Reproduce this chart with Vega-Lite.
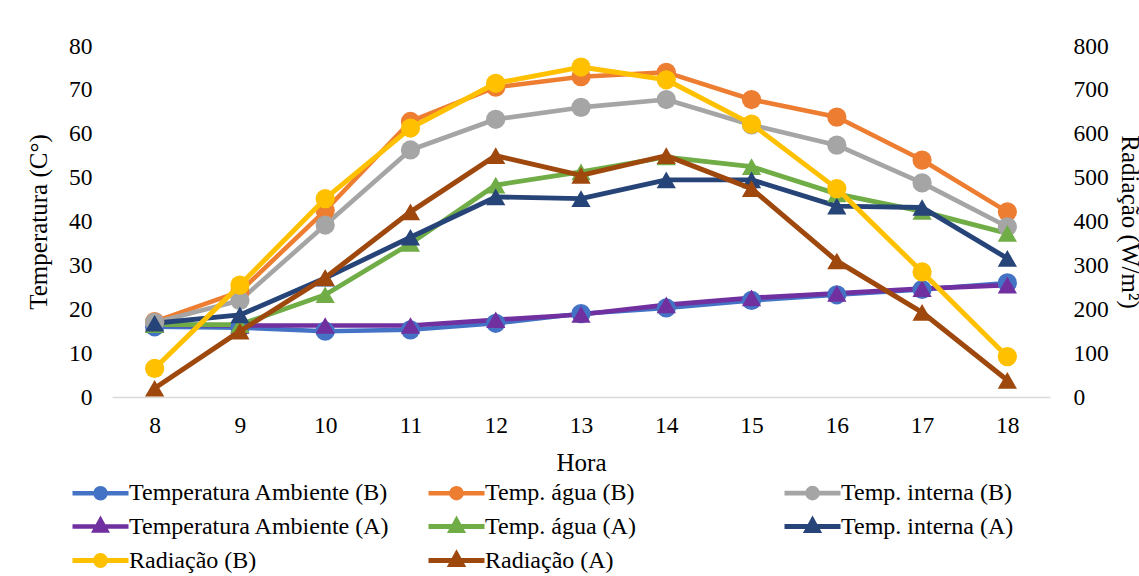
{
  "$schema": "https://vega.github.io/schema/vega-lite/v6.json",
  "width": 938,
  "height": 351,
  "autosize": {"type": "none"},
  "padding": {"left": 112, "top": 46, "right": 89, "bottom": 179},
  "background": "white",
  "config": {
    "font": "Liberation Serif",
    "view": {"stroke": null},
    "legend": {"labelFont": "Liberation Serif"},
    "axis": {
      "labelFont": "Liberation Serif",
      "labelFontSize": 23.5,
      "labelColor": "#000000",
      "titleFont": "Liberation Serif",
      "titleFontSize": 25,
      "titleFontWeight": "normal",
      "titleColor": "#000000",
      "grid": false,
      "ticks": false,
      "tickSize": 0
    }
  },
  "data": {
    "values": [
      {"hora": 8, "serie": "Temperatura Ambiente (B)", "valor": 16.0},
      {"hora": 9, "serie": "Temperatura Ambiente (B)", "valor": 15.8},
      {"hora": 10, "serie": "Temperatura Ambiente (B)", "valor": 15.0},
      {"hora": 11, "serie": "Temperatura Ambiente (B)", "valor": 15.3},
      {"hora": 12, "serie": "Temperatura Ambiente (B)", "valor": 16.8},
      {"hora": 13, "serie": "Temperatura Ambiente (B)", "valor": 19.0},
      {"hora": 14, "serie": "Temperatura Ambiente (B)", "valor": 20.3},
      {"hora": 15, "serie": "Temperatura Ambiente (B)", "valor": 22.0},
      {"hora": 16, "serie": "Temperatura Ambiente (B)", "valor": 23.3},
      {"hora": 17, "serie": "Temperatura Ambiente (B)", "valor": 24.5},
      {"hora": 18, "serie": "Temperatura Ambiente (B)", "valor": 26.0},
      {"hora": 8, "serie": "Temp. água (B)", "valor": 17.2},
      {"hora": 9, "serie": "Temp. água (B)", "valor": 24.0},
      {"hora": 10, "serie": "Temp. água (B)", "valor": 42.5},
      {"hora": 11, "serie": "Temp. água (B)", "valor": 62.8},
      {"hora": 12, "serie": "Temp. água (B)", "valor": 70.6},
      {"hora": 13, "serie": "Temp. água (B)", "valor": 73.0},
      {"hora": 14, "serie": "Temp. água (B)", "valor": 74.0},
      {"hora": 15, "serie": "Temp. água (B)", "valor": 67.8},
      {"hora": 16, "serie": "Temp. água (B)", "valor": 63.8},
      {"hora": 17, "serie": "Temp. água (B)", "valor": 54.0},
      {"hora": 18, "serie": "Temp. água (B)", "valor": 42.2},
      {"hora": 8, "serie": "Temp. interna (B)", "valor": 17.0},
      {"hora": 9, "serie": "Temp. interna (B)", "valor": 22.0},
      {"hora": 10, "serie": "Temp. interna (B)", "valor": 39.2},
      {"hora": 11, "serie": "Temp. interna (B)", "valor": 56.3},
      {"hora": 12, "serie": "Temp. interna (B)", "valor": 63.3},
      {"hora": 13, "serie": "Temp. interna (B)", "valor": 66.0},
      {"hora": 14, "serie": "Temp. interna (B)", "valor": 67.8},
      {"hora": 15, "serie": "Temp. interna (B)", "valor": 62.0},
      {"hora": 16, "serie": "Temp. interna (B)", "valor": 57.4},
      {"hora": 17, "serie": "Temp. interna (B)", "valor": 48.8},
      {"hora": 18, "serie": "Temp. interna (B)", "valor": 38.8},
      {"hora": 8, "serie": "Temperatura Ambiente (A)", "valor": 16.5},
      {"hora": 9, "serie": "Temperatura Ambiente (A)", "valor": 16.3},
      {"hora": 10, "serie": "Temperatura Ambiente (A)", "valor": 16.3},
      {"hora": 11, "serie": "Temperatura Ambiente (A)", "valor": 16.3},
      {"hora": 12, "serie": "Temperatura Ambiente (A)", "valor": 17.6},
      {"hora": 13, "serie": "Temperatura Ambiente (A)", "valor": 18.8},
      {"hora": 14, "serie": "Temperatura Ambiente (A)", "valor": 21.0},
      {"hora": 15, "serie": "Temperatura Ambiente (A)", "valor": 22.6},
      {"hora": 16, "serie": "Temperatura Ambiente (A)", "valor": 23.6},
      {"hora": 17, "serie": "Temperatura Ambiente (A)", "valor": 24.7},
      {"hora": 18, "serie": "Temperatura Ambiente (A)", "valor": 25.5},
      {"hora": 8, "serie": "Temp. água (A)", "valor": 16.5},
      {"hora": 9, "serie": "Temp. água (A)", "valor": 16.5},
      {"hora": 10, "serie": "Temp. água (A)", "valor": 23.3},
      {"hora": 11, "serie": "Temp. água (A)", "valor": 35.0},
      {"hora": 12, "serie": "Temp. água (A)", "valor": 48.3},
      {"hora": 13, "serie": "Temp. água (A)", "valor": 51.3},
      {"hora": 14, "serie": "Temp. água (A)", "valor": 54.7},
      {"hora": 15, "serie": "Temp. água (A)", "valor": 52.5},
      {"hora": 16, "serie": "Temp. água (A)", "valor": 46.3},
      {"hora": 17, "serie": "Temp. água (A)", "valor": 42.3},
      {"hora": 18, "serie": "Temp. água (A)", "valor": 37.3},
      {"hora": 8, "serie": "Temp. interna (A)", "valor": 16.8},
      {"hora": 9, "serie": "Temp. interna (A)", "valor": 18.7},
      {"hora": 10, "serie": "Temp. interna (A)", "valor": 27.1},
      {"hora": 11, "serie": "Temp. interna (A)", "valor": 36.4},
      {"hora": 12, "serie": "Temp. interna (A)", "valor": 45.6},
      {"hora": 13, "serie": "Temp. interna (A)", "valor": 45.2},
      {"hora": 14, "serie": "Temp. interna (A)", "valor": 49.5},
      {"hora": 15, "serie": "Temp. interna (A)", "valor": 49.5},
      {"hora": 16, "serie": "Temp. interna (A)", "valor": 43.5},
      {"hora": 17, "serie": "Temp. interna (A)", "valor": 43.2},
      {"hora": 18, "serie": "Temp. interna (A)", "valor": 31.6},
      {"hora": 8, "serie": "Radiação (B)", "valor": 65},
      {"hora": 9, "serie": "Radiação (B)", "valor": 255},
      {"hora": 10, "serie": "Radiação (B)", "valor": 452},
      {"hora": 11, "serie": "Radiação (B)", "valor": 613},
      {"hora": 12, "serie": "Radiação (B)", "valor": 715},
      {"hora": 13, "serie": "Radiação (B)", "valor": 752},
      {"hora": 14, "serie": "Radiação (B)", "valor": 723},
      {"hora": 15, "serie": "Radiação (B)", "valor": 622},
      {"hora": 16, "serie": "Radiação (B)", "valor": 475},
      {"hora": 17, "serie": "Radiação (B)", "valor": 285},
      {"hora": 18, "serie": "Radiação (B)", "valor": 92},
      {"hora": 8, "serie": "Radiação (A)", "valor": 20},
      {"hora": 9, "serie": "Radiação (A)", "valor": 150},
      {"hora": 10, "serie": "Radiação (A)", "valor": 272},
      {"hora": 11, "serie": "Radiação (A)", "valor": 422},
      {"hora": 12, "serie": "Radiação (A)", "valor": 550},
      {"hora": 13, "serie": "Radiação (A)", "valor": 505},
      {"hora": 14, "serie": "Radiação (A)", "valor": 550},
      {"hora": 15, "serie": "Radiação (A)", "valor": 475},
      {"hora": 16, "serie": "Radiação (A)", "valor": 310},
      {"hora": 17, "serie": "Radiação (A)", "valor": 193},
      {"hora": 18, "serie": "Radiação (A)", "valor": 38}
    ]
  },
  "encoding": {
    "x": {
      "field": "hora",
      "type": "ordinal",
      "scale": {"type": "point", "padding": 0.5},
      "axis": {
        "title": "Hora",
        "labelAngle": 0,
        "labelFont": "Liberation Serif",
        "domain": true,
        "domainColor": "#d9d9d9",
        "domainWidth": 1.5,
        "labelPadding": 16,
        "titlePadding": 14
      }
    },
    "color": {
      "field": "serie",
      "type": "nominal",
      "scale": {
        "domain": ["Temperatura Ambiente (B)", "Temp. água (B)", "Temp. interna (B)", "Temperatura Ambiente (A)", "Temp. água (A)", "Temp. interna (A)", "Radiação (B)", "Radiação (A)"],
        "range": ["#4472C4", "#ED7D31", "#A5A5A5", "#7030A0", "#70AD47", "#264478", "#FFC000", "#9E480E"]
      },
      "legend": {
        "title": null,
        "orient": "none",
        "legendX": -24,
        "legendY": 434,
        "direction": "horizontal",
        "columns": 3,
        "gridAlign": "all",
        "columnPadding": 28,
        "rowPadding": 2,
        "symbolSize": 400,
        "symbolStrokeWidth": 4,
        "labelFont": "Liberation Serif",
        "labelFontSize": 24,
        "labelColor": "#000000",
        "labelOffset": 16,
        "labelLimit": 0,
        "encode": {
          "symbols": {
            "update": {
              "shape": {"signal": "indexof(datum.value, '(A)') >= 0 ? 'M-2.8,0L2.8,0M0,-0.6L0.55,0.4L-0.55,0.4Z' : 'M-2.8,0L2.8,0M0.5,0A0.5,0.5,0,1,1,-0.5,0A0.5,0.5,0,1,1,0.5,0Z'"},
              "fill": {"scale": "color", "field": "value"},
              "stroke": {"scale": "color", "field": "value"},
              "strokeWidth": {"value": 4},
              "size": {"value": 400},
              "opacity": {"value": 1},
              "fillOpacity": {"value": 1},
              "strokeOpacity": {"value": 1}
            }
          }
        }
      }
    }
  },
  "layer": [
    {
      "transform": [{"filter": {"field": "serie", "oneOf": ["Temperatura Ambiente (B)", "Temp. água (B)", "Temp. interna (B)", "Temperatura Ambiente (A)", "Temp. água (A)", "Temp. interna (A)"]}}],
      "encoding": {
        "y": {
          "field": "valor",
          "type": "quantitative",
          "scale": {"domain": [0, 80], "nice": false},
          "axis": {
            "title": "Temperatura (C°)",
            "labelFont": "Liberation Serif",
            "values": [0, 10, 20, 30, 40, 50, 60, 70, 80],
            "domain": false,
            "labelPadding": 20,
            "titlePadding": 17
          }
        }
      },
      "layer": [
        {
          "mark": {"type": "line", "strokeCap": "round", "strokeJoin": "round"},
          "encoding": {
            "strokeWidth": {
              "field": "serie",
              "type": "nominal",
              "scale": {
                "domain": ["Temperatura Ambiente (B)", "Temp. água (B)", "Temp. interna (B)", "Temperatura Ambiente (A)", "Temp. água (A)", "Temp. interna (A)", "Radiação (B)", "Radiação (A)"],
                "range": [4.5, 5, 5, 4, 3.2, 3.2, 5, 3.6]
              },
              "legend": null
            }
          }
        },
        {
          "transform": [{"filter": {"field": "serie", "oneOf": ["Temperatura Ambiente (B)", "Temp. água (B)", "Temp. interna (B)"]}}],
          "mark": {"type": "point", "shape": "circle", "filled": true, "opacity": 1, "size": 370}
        },
        {
          "transform": [{"filter": {"field": "serie", "oneOf": ["Temperatura Ambiente (A)", "Temp. água (A)", "Temp. interna (A)"]}}],
          "mark": {"type": "point", "shape": "triangle-up", "filled": true, "opacity": 1, "size": 370}
        }
      ]
    },
    {
      "transform": [{"filter": {"field": "serie", "oneOf": ["Radiação (B)", "Radiação (A)"]}}],
      "encoding": {
        "y": {
          "field": "valor",
          "type": "quantitative",
          "scale": {"domain": [0, 800], "nice": false},
          "axis": {
            "orient": "right",
            "title": "Radiação (W/m²)",
            "labelFont": "Liberation Serif",
            "values": [0, 100, 200, 300, 400, 500, 600, 700, 800],
            "domain": false,
            "labelPadding": 23,
            "titlePadding": 8
          }
        }
      },
      "layer": [
        {
          "mark": {"type": "line", "strokeCap": "round", "strokeJoin": "round"},
          "encoding": {
            "strokeWidth": {
              "field": "serie",
              "type": "nominal",
              "scale": {
                "domain": ["Temperatura Ambiente (B)", "Temp. água (B)", "Temp. interna (B)", "Temperatura Ambiente (A)", "Temp. água (A)", "Temp. interna (A)", "Radiação (B)", "Radiação (A)"],
                "range": [4.5, 5, 5, 4, 3.2, 3.2, 5, 3.6]
              },
              "legend": null
            }
          }
        },
        {
          "transform": [{"filter": {"field": "serie", "equal": "Radiação (B)"}}],
          "mark": {"type": "point", "shape": "circle", "filled": true, "opacity": 1, "size": 370}
        },
        {
          "transform": [{"filter": {"field": "serie", "equal": "Radiação (A)"}}],
          "mark": {"type": "point", "shape": "triangle-up", "filled": true, "opacity": 1, "size": 370}
        }
      ]
    }
  ],
  "resolve": {"scale": {"y": "independent"}}
}
